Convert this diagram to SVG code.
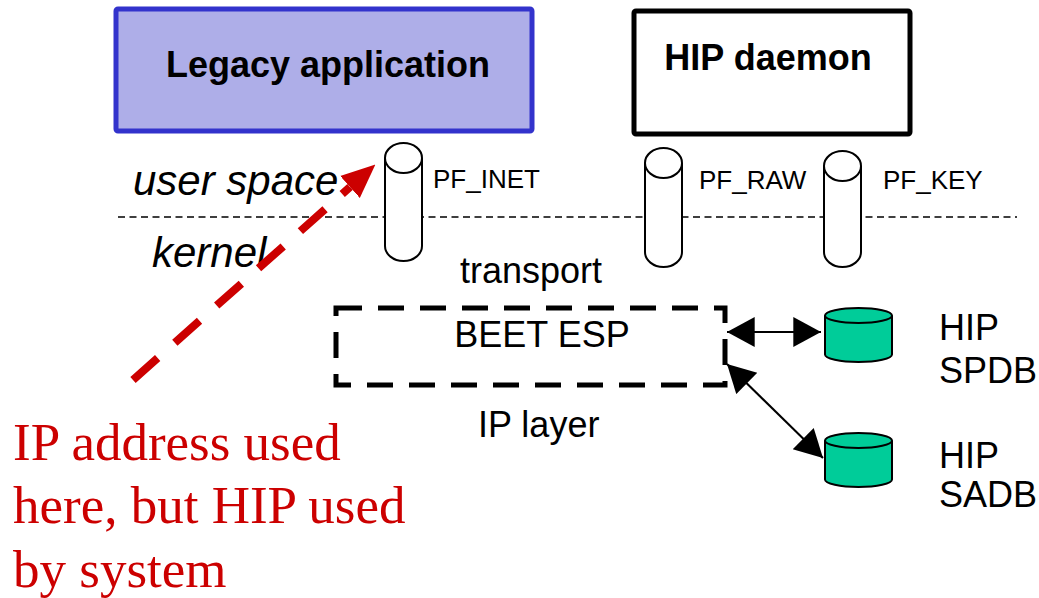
<svg xmlns="http://www.w3.org/2000/svg" width="1039" height="598" viewBox="0 0 1039 598">
<style>
.sans{font-family:"Liberation Sans",Arial,sans-serif;fill:#000}
.bold{font-weight:bold;font-size:36px}
.lbl{font-size:26px}
.mid{font-size:36px}
.ital{font-style:italic;font-size:42px}
.red{font-family:"Liberation Serif","Times New Roman",serif;font-size:53px;fill:#CC0000}
.pipe{fill:#fff;stroke:#000;stroke-width:2}
.db{fill:#00CC99;stroke:#000;stroke-width:2}
</style>
<defs>
<marker id="ah" markerUnits="userSpaceOnUse" markerWidth="30" markerHeight="30" viewBox="0 -13 24 26" refX="24" refY="0" orient="auto-start-reverse">
<path d="M0,-13 L24,0 L0,13 z" fill="#000"/>
</marker>
<marker id="rah" markerUnits="userSpaceOnUse" markerWidth="34" markerHeight="30" viewBox="0 -13 30 26" refX="0" refY="0" orient="auto">
<path d="M0,-13 L30,0 L0,13 z" fill="#CC0000"/>
</marker>
</defs>

<g id="legacy">
<rect x="116" y="9" width="416" height="122" fill="#AEAEE8" stroke="#3333CC" stroke-width="5" rx="2"/>
<text class="sans bold" x="328" y="77" text-anchor="middle">Legacy application</text>
</g>
<g id="daemon">
<rect x="634" y="11" width="276" height="123" fill="#fff" stroke="#000" stroke-width="5" rx="2"/>
<text class="sans bold" x="768" y="70" text-anchor="middle">HIP daemon</text>
</g>

<line x1="118" y1="217" x2="1017" y2="217" stroke="#000" stroke-width="1.5" stroke-dasharray="7,4.5"/>
<text class="sans ital" x="133" y="195">user space</text>
<text class="sans ital" x="152" y="267">kernel</text>

<g id="pf_inet">
<path class="pipe" d="M385,158 L385,246 A18.5,15 0 0 0 422,246 L422,158"/>
<ellipse class="pipe" cx="403.5" cy="158" rx="18.5" ry="15"/>
<text class="sans lbl" x="433" y="188">PF_INET</text>
</g>
<g id="pf_raw">
<path class="pipe" d="M645,163 L645,252 A18.5,15 0 0 0 682,252 L682,163"/>
<ellipse class="pipe" cx="663.5" cy="163" rx="18.5" ry="15"/>
<text class="sans lbl" x="699" y="189">PF_RAW</text>
</g>
<g id="pf_key">
<path class="pipe" d="M824,166 L824,252 A18.5,15 0 0 0 861,252 L861,166"/>
<ellipse class="pipe" cx="842.5" cy="166" rx="18.5" ry="15"/>
<text class="sans lbl" x="883" y="189">PF_KEY</text>
</g>

<text class="sans mid" x="460" y="283">transport</text>
<g id="beet">
<rect x="336" y="308" width="389" height="77" fill="none" stroke="#000" stroke-width="5" stroke-dasharray="26,16"/>
<text class="sans mid" x="542" y="347" text-anchor="middle">BEET ESP</text>
</g>
<text class="sans mid" x="478" y="437">IP layer</text>

<g id="spdb">
<path class="db" d="M825,315.5 L825,354.5 A33.5,7.5 0 0 0 892,354.5 L892,315.5"/>
<ellipse class="db" cx="858.5" cy="315.5" rx="33.5" ry="7.5" fill="#fff"/>
<text class="sans mid" x="939" y="340">HIP</text>
<text class="sans mid" x="939" y="383">SPDB</text>
</g>
<g id="sadb">
<path class="db" d="M825,440.5 L825,479.5 A33.5,7.5 0 0 0 892,479.5 L892,440.5"/>
<ellipse class="db" cx="858.5" cy="440.5" rx="33.5" ry="7.5" fill="#fff"/>
<text class="sans mid" x="939" y="468">HIP</text>
<text class="sans mid" x="939" y="507">SADB</text>
</g>

<g id="connectors">
<line x1="727" y1="332" x2="821" y2="332" stroke="#000" stroke-width="2" marker-start="url(#ah)" marker-end="url(#ah)"/>
<line x1="727" y1="364" x2="823" y2="458" stroke="#000" stroke-width="2" marker-start="url(#ah)" marker-end="url(#ah)"/>
<line x1="133" y1="380" x2="350" y2="187" stroke="#CC0000" stroke-width="8" stroke-dasharray="33,23" marker-end="url(#rah)"/>
</g>

<g id="note">
<text class="red" x="13" y="460">IP address used</text>
<text class="red" x="13" y="523">here, but HIP used</text>
<text class="red" x="13" y="587">by system</text>
</g>
</svg>
